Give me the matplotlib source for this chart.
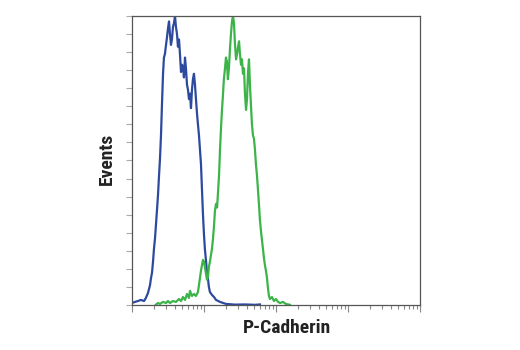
import matplotlib
import numpy as np

matplotlib.use("Agg")
import matplotlib.pyplot as plt
from matplotlib.ticker import LogLocator, MultipleLocator, NullFormatter

# fluorescence intensity (log axis) and event counts
blue_x = [1.0, 1.10, 1.21, 1.33, 1.47, 1.56, 1.67, 1.78, 1.84, 1.90, 1.96, 2.02,
          2.09, 2.15, 2.22, 2.30, 2.37, 2.45, 2.53, 2.61, 2.70, 2.78, 2.87, 2.97,
          3.06, 3.16, 3.27, 3.37, 3.48, 3.59, 3.71, 3.83, 3.96, 4.08, 4.22, 4.35,
          4.50, 4.64, 4.80, 4.95, 5.11, 5.27, 5.45, 5.62, 5.81, 6.00, 6.19, 6.39,
          6.60, 6.81, 7.03, 7.26, 7.50, 7.74, 8.00, 8.25, 8.52, 8.80, 9.09, 9.38,
          9.69, 10.0, 10.3, 10.7, 11.0, 11.4, 11.7, 12.1, 12.9, 13.8, 14.7, 16.7,
          20.2, 27.0, 37.1, 51.1, 59.9]
blue_y = [1.1, 1.7, 2.2, 2.8, 2.2, 3.9, 6.7, 11, 15, 18, 24, 31,
          37, 44, 52, 61, 71, 81, 94, 111, 128, 137, 139, 144,
          148, 153, 157, 150, 144, 147, 154, 156, 160, 154, 150, 143,
          147, 139, 129, 133, 132, 126, 137, 131, 122, 119, 114, 117,
          109, 119, 125, 128, 122, 114, 106, 100, 94, 86, 78, 64,
          50, 39, 31, 24, 18, 14, 10, 7.2, 5.6, 4.4, 2.8, 1.7,
          0.6, 0.2, 0.3, 0.1, 0.3]

green_x = [2.15, 2.30, 2.45, 2.70, 2.97, 3.16, 3.37, 3.71, 4.08, 4.50, 4.80, 5.11,
           5.45, 5.81, 6.19, 6.39, 6.81, 7.26, 7.74, 8.25, 8.52, 8.80, 9.09, 9.38,
           9.69, 10.0, 10.3, 10.7, 11.0, 11.4, 11.7, 12.1, 12.9, 13.3, 13.8, 14.2,
           14.7, 15.2, 15.6, 16.2, 16.7, 17.2, 17.8, 18.4, 18.9, 19.6, 20.2, 20.8,
           21.5, 22.2, 23.0, 23.7, 24.5, 25.3, 26.1, 27.0, 27.9, 28.8, 29.8, 30.7,
           31.6, 32.7, 33.7, 34.8, 36.0, 37.1, 38.4, 39.6, 40.8, 42.2, 43.5, 44.9,
           46.4, 47.9, 49.5, 51.1, 52.7, 54.4, 56.2, 58.0, 59.9, 61.9, 63.9, 66.0,
           68.1, 70.3, 72.6, 75.0, 77.4, 79.9, 82.5, 88.0, 93.8, 100, 107, 114,
           125, 137, 156]
green_y = [0.2, 1.1, 0.6, 1.7, 1.1, 2.2, 1.1, 2.2, 1.7, 3.3, 2.2, 4.4,
           2.8, 6.1, 3.9, 7.8, 5.0, 6.1, 5.0, 7.2, 11, 15, 19, 22,
           25, 24, 21, 17, 14, 16, 21, 24, 31, 36, 44, 52,
           56, 54, 61, 72, 86, 97, 108, 117, 125, 131, 137, 135,
           125, 131, 142, 150, 157, 160, 156, 144, 136, 139, 143, 146,
           139, 133, 136, 128, 131, 117, 108, 114, 128, 136, 122, 111,
           100, 94, 92, 86, 78, 72, 64, 56, 47, 41, 36, 31,
           26, 22, 19, 15, 9.4, 5.0, 3.3, 4.4, 2.2, 3.3, 1.7, 1.1,
           1.7, 0.6, 0.1]


def main() -> None:
    fig = plt.figure(figsize=(5.2, 3.5), dpi=100)
    ax = fig.add_axes([0.2538, 0.1286, 0.5538, 0.8257])

    ax.plot(blue_x, blue_y, color="#2d4a9e", lw=1.6)
    ax.plot(green_x, green_y, color="#3cb44a", lw=1.6)

    ax.set_xscale("log")
    ax.set_xlim(1, 10000)
    ax.set_ylim(0, 160)

    ax.xaxis.set_major_locator(LogLocator(base=10, numticks=10))
    ax.xaxis.set_minor_locator(LogLocator(base=10, subs=np.arange(2, 10), numticks=20))
    ax.xaxis.set_major_formatter(NullFormatter())
    ax.xaxis.set_minor_formatter(NullFormatter())
    ax.yaxis.set_major_locator(MultipleLocator(10))
    ax.yaxis.set_major_formatter(NullFormatter())

    ax.tick_params(axis="x", which="major", length=5, width=0.8, color="#888888")
    ax.tick_params(axis="x", which="minor", length=3, width=0.8, color="#888888")
    ax.tick_params(axis="y", which="major", length=4, width=0.8, color="#aaaaaa")

    for side in ax.spines.values():
        side.set_color("#555555")
        side.set_linewidth(0.9)

    font = ["Roboto Condensed", "Barlow Condensed", "DejaVu Sans"]
    fig.text(287.5 / 520, 1 - 328 / 350, "P-Cadherin", family=font,
             fontweight="bold", fontsize=14, color="#222222", ha="center", va="center")
    fig.text(107 / 520, 1 - 159 / 350, "Events", family=font, rotation=90,
             fontweight="bold", fontsize=14, color="#222222", ha="center", va="center")

    fig.savefig("out.png", dpi=100)
    plt.close(fig)


if __name__ == "__main__":
    main()
